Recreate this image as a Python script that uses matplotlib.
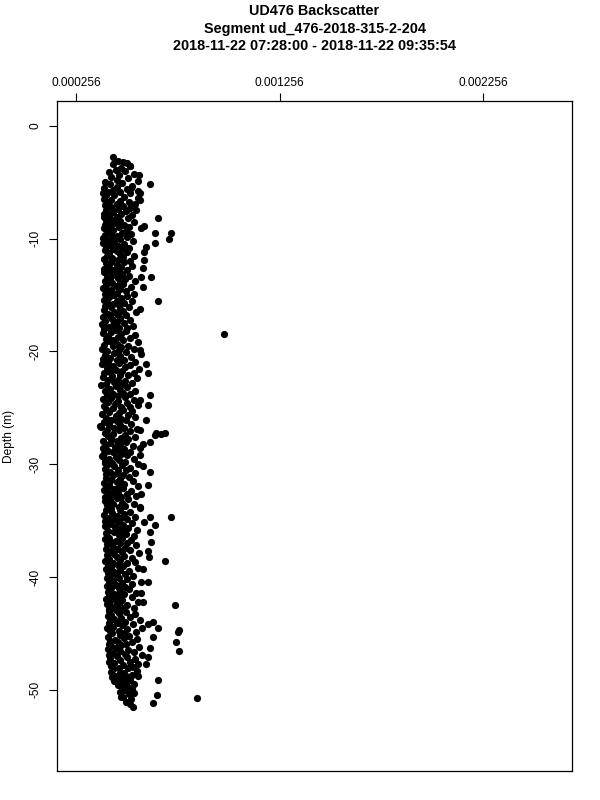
import numpy as np
import matplotlib
matplotlib.use('Agg')
import matplotlib.pyplot as plt

matplotlib.rc('font', family=['Liberation Sans', 'DejaVu Sans'])

title_lines = ['UD476 Backscatter',
               'Segment ud_476-2018-315-2-204',
               '2018-11-22 07:28:00 - 2018-11-22 09:35:54']
xticks = [0.000256, 0.001256, 0.002256]
xtick_labels = ['0.000256', '0.001256', '0.002256']
yticks = [0, -10, -20, -30, -40, -50]

# backscatter in units of 1e-6; depth in m
depth_core = [
    -3.1, -3.3, -3.4, -3.6, -3.7, -3.9,
    -4.0, -4.1, -4.3, -4.4, -4.5, -4.6, -4.8, -4.9,
    -5.0, -5.1, -5.2, -5.3, -5.4, -5.5, -5.6, -5.7, -5.8, -5.85, -5.9, -5.95,
    -6.0, -6.1, -6.15, -6.3, -6.4, -6.45, -6.6, -6.7, -6.75, -6.85, -6.9, -6.95,
    -7.0, -7.1, -7.2, -7.3, -7.35, -7.5, -7.55, -7.65, -7.8, -7.85, -7.9, -7.95,
    -8.05, -8.1, -8.2, -8.3, -8.4, -8.5, -8.55, -8.65, -8.75, -8.8, -8.9, -8.95,
    -9.0, -9.1, -9.2, -9.3, -9.4, -9.5, -9.55, -9.65, -9.75, -9.8, -9.9, -9.95,
    -10.05, -10.1, -10.2, -10.3, -10.4, -10.5, -10.55, -10.65, -10.75, -10.8, -10.9, -10.95,
    -11.0, -11.1, -11.2, -11.3, -11.4, -11.5, -11.55, -11.65, -11.75, -11.8, -11.9, -11.95,
    -12.05, -12.1, -12.2, -12.3, -12.4, -12.5, -12.55, -12.65, -12.75, -12.8, -12.9, -12.95,
    -13.0, -13.1, -13.2, -13.3, -13.4, -13.5, -13.55, -13.65, -13.75, -13.8, -13.9, -13.95,
    -14.05, -14.1, -14.2, -14.3, -14.4, -14.5, -14.55, -14.65, -14.75, -14.8, -14.9, -14.95,
    -15.0, -15.1, -15.2, -15.3, -15.4, -15.5, -15.55, -15.65, -15.75, -15.8, -15.9, -15.95,
    -16.05, -16.1, -16.2, -16.3, -16.4, -16.5, -16.55, -16.65, -16.75, -16.8, -16.9, -16.95,
    -17.0, -17.1, -17.2, -17.3, -17.4, -17.5, -17.55, -17.65, -17.75, -17.8, -17.9, -17.95,
    -18.05, -18.1, -18.2, -18.3, -18.4, -18.5, -18.55, -18.65, -18.75, -18.8, -18.9, -18.95,
    -19.0, -19.1, -19.2, -19.3, -19.4, -19.5, -19.55, -19.65, -19.75, -19.8, -19.9, -19.95,
    -20.05, -20.1, -20.2, -20.3, -20.4, -20.5, -20.55, -20.65, -20.75, -20.8, -20.9, -20.95,
    -21.0, -21.1, -21.2, -21.3, -21.4, -21.5, -21.55, -21.65, -21.75, -21.8, -21.9, -21.95,
    -22.05, -22.1, -22.2, -22.3, -22.4, -22.5, -22.55, -22.65, -22.75, -22.8, -22.9, -22.95,
    -23.0, -23.1, -23.2, -23.3, -23.4, -23.5, -23.55, -23.65, -23.75, -23.8, -23.9, -23.95,
    -24.05, -24.1, -24.2, -24.3, -24.4, -24.5, -24.55, -24.65, -24.75, -24.8, -24.9, -24.95,
    -25.0, -25.1, -25.2, -25.3, -25.4, -25.5, -25.55, -25.65, -25.75, -25.8, -25.9, -25.95,
    -26.05, -26.1, -26.2, -26.3, -26.4, -26.5, -26.55, -26.65, -26.75, -26.8, -26.9, -26.95,
    -27.0, -27.1, -27.2, -27.3, -27.4, -27.5, -27.55, -27.65, -27.75, -27.8, -27.9, -27.95,
    -28.05, -28.1, -28.2, -28.3, -28.4, -28.5, -28.55, -28.65, -28.75, -28.8, -28.9, -28.95,
    -29.0, -29.1, -29.2, -29.3, -29.4, -29.5, -29.55, -29.65, -29.75, -29.8, -29.9, -29.95,
    -30.05, -30.1, -30.2, -30.3, -30.4, -30.5, -30.55, -30.65, -30.75, -30.8, -30.9, -30.95,
    -31.0, -31.1, -31.2, -31.3, -31.4, -31.5, -31.55, -31.65, -31.75, -31.8, -31.9, -31.95,
    -32.05, -32.1, -32.2, -32.3, -32.4, -32.5, -32.55, -32.65, -32.75, -32.8, -32.9, -32.95,
    -33.0, -33.1, -33.2, -33.3, -33.4, -33.5, -33.55, -33.65, -33.75, -33.8, -33.9, -33.95,
    -34.05, -34.1, -34.2, -34.3, -34.4, -34.5, -34.55, -34.65, -34.75, -34.8, -34.9, -34.95,
    -35.0, -35.1, -35.2, -35.3, -35.4, -35.5, -35.55, -35.65, -35.75, -35.8, -35.9, -35.95,
    -36.05, -36.1, -36.2, -36.3, -36.4, -36.5, -36.55, -36.65, -36.75, -36.8, -36.9, -36.95,
    -37.0, -37.1, -37.2, -37.3, -37.4, -37.5, -37.55, -37.65, -37.75, -37.8, -37.9, -37.95,
    -38.05, -38.1, -38.2, -38.3, -38.4, -38.5, -38.55, -38.65, -38.75, -38.8, -38.9, -38.95,
    -39.0, -39.1, -39.2, -39.3, -39.4, -39.5, -39.55, -39.65, -39.75, -39.8, -39.9, -39.95,
    -40.05, -40.1, -40.2, -40.3, -40.4, -40.5, -40.55, -40.65, -40.75, -40.8, -40.9, -40.95,
    -41.0, -41.1, -41.2, -41.3, -41.4, -41.5, -41.55, -41.65, -41.75, -41.8, -41.9, -41.95,
    -42.05, -42.1, -42.2, -42.3, -42.4, -42.5, -42.55, -42.65, -42.75, -42.8, -42.9, -42.95,
    -43.0, -43.1, -43.2, -43.3, -43.4, -43.5, -43.55, -43.65, -43.75, -43.8, -43.9, -43.95,
    -44.05, -44.1, -44.2, -44.3, -44.4, -44.5, -44.55, -44.65, -44.75, -44.8, -44.9, -44.95,
    -45.0, -45.1, -45.2, -45.3, -45.4, -45.5, -45.55, -45.65, -45.75, -45.8, -45.9, -45.95,
    -46.05, -46.1, -46.2, -46.3, -46.4, -46.5, -46.55, -46.65, -46.75, -46.8, -46.9, -46.95,
    -47.0, -47.1, -47.2, -47.3, -47.4, -47.5, -47.55, -47.65, -47.75, -47.8, -47.9, -47.95,
    -48.05, -48.1, -48.2, -48.3, -48.4, -48.5, -48.55, -48.65, -48.75, -48.8, -48.9, -48.95,
    -49.0, -49.1, -49.2, -49.3, -49.4, -49.5, -49.55, -49.65, -49.75, -49.9,
    -50.0, -50.2, -50.4, -50.6, -50.8,
]
bs_core = [
    462, 505, 438, 520, 478, 450,
    495, 418, 540, 465, 430, 510, 455, 560,
    400, 480, 425, 530, 455, 395, 505, 440, 560, 415, 470, 388,
    520, 445, 405, 490, 560, 395, 430, 470, 515, 410, 545, 455,
    398, 485, 430, 520, 460, 405, 500, 440, 475, 395, 530, 420,
    455, 392, 510, 430, 470, 405, 540, 445, 490, 400, 425, 515,
    465, 395, 440, 500, 415, 480, 525, 400, 455, 432, 505, 390,
    470, 415, 535, 445, 390, 490, 425, 460, 402, 515, 440, 480,
    398, 455, 505, 420, 470, 540, 410, 485, 435, 395, 460, 520,
    430, 490, 402, 455, 530, 418, 475, 395, 445, 505, 425, 465,
    392, 480, 440, 515, 410, 460, 498, 425, 545, 400, 470, 435,
    485, 405, 450, 525, 388, 470, 430, 500, 415, 455, 540, 398,
    445, 505, 420, 478, 392, 530, 455, 410, 490, 438, 465, 400,
    515, 428, 470, 395, 485, 445, 550, 412, 460, 500, 425, 390,
    472, 435, 520, 400, 455, 490, 385, 440, 535, 418, 468, 505,
    395, 450, 500, 430, 388, 475, 545, 415, 460, 520, 402, 440,
    485, 420, 560, 455, 395, 510, 438, 475, 382, 540, 465, 410,
    500, 445, 575, 400, 470, 525, 425, 390, 490, 455, 548, 415,
    465, 385, 520, 440, 495, 408, 565, 452, 480, 425, 540, 395,
    470, 510, 432, 390, 555, 460, 415, 495, 445, 530, 402, 478,
    380, 450, 505, 425, 470, 545, 398, 488, 438, 520, 410, 460,
    495, 430, 388, 540, 462, 412, 505, 448, 560, 395, 478, 520,
    440, 402, 485, 530, 420, 465, 385, 510, 450, 548, 405, 475,
    430, 500, 455, 392, 525, 418, 470, 375, 490, 445, 555, 408,
    465, 520, 398, 440, 495, 415, 545, 475, 430, 510, 390, 458,
    500, 425, 470, 405, 535, 448, 388, 490, 460, 415, 520, 440,
    395, 475, 505, 382, 452, 420, 540, 465, 400, 495, 435, 560,
    410, 480, 445, 520, 398, 462, 500, 425, 545, 455, 405, 488,
    440, 515, 402, 470, 430, 535, 455, 395, 492, 420, 560, 465,
    405, 485, 445, 395, 525, 460, 418, 505, 438, 550, 475, 400,
    455, 510, 425, 398, 480, 540, 440, 410, 495, 465, 568, 430,
    402, 470, 520, 435, 490, 395, 455, 545, 415, 478, 505, 440,
    400, 460, 530, 425, 485, 398, 448, 510, 470, 555, 412, 490,
    445, 405, 500, 465, 540, 420, 482, 398, 525, 450, 430, 505,
    470, 410, 550, 440, 495, 402, 460, 520, 425, 480, 565, 445,
    408, 490, 455, 530, 420, 470, 400, 545, 438, 505, 462, 415,
    485, 430, 560, 405, 470, 515, 445, 412, 498, 455, 535, 425,
    465, 410, 505, 440, 575, 420, 480, 530, 450, 408, 495, 468,
    428, 515, 470, 412, 550, 445, 490, 418, 462, 530, 440, 405,
    480, 425, 560, 455, 410, 505, 470, 435, 540, 418, 488, 450,
    420, 500, 465, 545, 430, 412, 520, 478, 442, 570, 425, 495,
    455, 418, 535, 480, 440, 580, 410, 505, 465, 425, 550, 490,
    435, 470, 515, 412, 490, 555, 448, 425, 530, 462, 420, 500,
    478, 430, 565, 452, 415, 510, 470, 540, 438, 495, 420, 580,
    455, 505, 425, 545, 470, 418, 520, 442, 560, 485, 430, 538,
    465, 510, 440, 555, 428, 490, 470, 530, 450, 500, 435, 478,
    455, 520, 445, 490, 470, 540, 460, 505, 480, 530,
    495, 470, 515, 485, 525,
]

# scattered points off the main band
depth_sparse = [
    -2.78, -3.18, -3.6, -4.4, -5.2, -5.5, -6.0, -6.6, -7.5, -8.2,
    -8.9, -9.1, -9.5, -9.5, -10.0, -10.4, -10.7, -11.2, -11.9, -12.6,
    -13.4, -13.4, -14.3, -14.3, -15.5, -16.2, -17.7, -18.5, -19.9, -21.1,
    -21.9, -23.9, -24.75, -24.3, -26.1, -26.7, -27.0, -27.2, -27.3, -27.2,
    -27.4, -28.0, -28.2, -28.6, -29.3, -29.9, -29.2, -30.2, -30.7, -32.0,
    -31.8, -32.6, -33.8, -34.65, -34.65, -35.4, -35.1, -36.0, -36.9, -37.7,
    -38.25, -38.6, -39.3, -40.4, -41.4, -42.2, -42.5, -44.0, -44.2, -44.5,
    -44.7, -44.85, -45.3, -45.8, -46.3, -46.6, -47.1, -47.7, -48.8, -49.1,
    -50.3, -50.5, -50.6, -50.7, -51.05, -51.2, -51.3, -51.5,
]
bs_sparse = [
    440, 486, 519, 565, 620, 527, 568, 568, 552, 658,
    592, 576, 646, 724, 715, 642, 601, 592, 592, 584,
    625, 576, 396, 584, 658, 568, 388, 985, 568, 601,
    609, 617, 609, 568, 601, 380, 568, 651, 671, 691,
    642, 617, 584, 568, 388, 396, 568, 584, 617, 412,
    609, 576, 568, 617, 724, 642, 592, 617, 622, 609,
    614, 691, 584, 609, 576, 584, 740, 633, 609, 658,
    764, 756, 633, 745, 617, 761, 609, 601, 560, 658,
    543, 653, 478, 849, 503, 633, 519, 535,
]

depth = np.array(depth_core + depth_sparse)
backscatter = np.array(bs_core + bs_sparse) * 1e-6

fig = plt.figure(figsize=(6, 8), dpi=100)
ax = fig.add_axes([57/600, 1 - 771/800, (572 - 57)/600, (771 - 101)/800])

ax.plot(backscatter, depth, 'o', color='black', markersize=5.2, markeredgewidth=0)

ax.set_xlim(0.0001627, 0.0026917)
ax.set_ylim(-57.2, 2.2)
ax.xaxis.tick_top()
ax.set_xticks(xticks)
ax.set_xticklabels(xtick_labels)
ax.set_yticks(yticks)
ax.set_yticklabels([str(t) for t in yticks], rotation=90, va='center')
ax.tick_params(axis='both', direction='out', length=5.5, width=0.8, labelsize=8.6, color='black')
ax.tick_params(axis='x', pad=3)
ax.tick_params(axis='y', pad=6)
for s in ax.spines.values():
    s.set_linewidth(0.9)
ax.set_ylabel('Depth (m)', fontsize=8.6, labelpad=10)

cx = (57 + 572) / 2 / 600
for i, line in enumerate(title_lines):
    fig.text(cx, 1 - (11 + 17.5 * i) / 800, line, ha='center', va='center',
             fontsize=10.4, fontweight='bold')

plt.savefig('out.png', dpi=100)
